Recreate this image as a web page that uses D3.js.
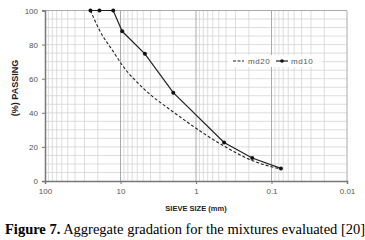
<!DOCTYPE html>
<html lang="en">
<head>
<meta charset="UTF-8" />
<title>Aggregate gradation</title>
<script src="https://d3js.org/d3.v7.min.js"></script>
<style>
    body { margin: 0; background: #fff; }
    svg { display: block; }
    .tick text { font-family: "Liberation Sans", Arial, sans-serif; font-size: 8px; fill: #555; }
</style>
</head>
<body>
<div id="viz"></div>
<script>
    // --- Data (sieve size in mm, % passing) ---
    const sieves = [25, 19, 12.5, 9.5, 4.75, 2.0, 0.425, 0.18, 0.075];
    const md20 = [100, 88.5, 76, 68, 53.5, 40.5, 20.5, 12, 7];
    const md10 = [100, 100, 100, 87.8, 74.6, 51.8, 22.6, 13.5, 7.4];
    const xTicks = [100, 10, 1, 0.1, 0.01];
    const yTicks = [0, 20, 40, 60, 80, 100];

    const W = 365, H = 240;
    const svg = d3.select("#viz").append("svg").attr("width", W).attr("height", H);

    const x = d3.scaleLog().domain([100, 0.01]).range([45, 347]);
    const y = d3.scaleLinear().domain([0, 100]).range([181, 10.5]);

    // minor grid
    const minor = [];
    [10, 1, 0.1, 0.01].forEach(dec => {
        for (let k = 2; k <= 9; k++) minor.push(dec * k);
    });
    const grid = svg.append("g");
    grid.selectAll("line.vm").data(minor).enter().append("line")
        .attr("x1", d => x(d)).attr("x2", d => x(d))
        .attr("y1", y(0)).attr("y2", y(100))
        .attr("stroke", "#d4d4d4").attr("stroke-width", 0.8);
    grid.selectAll("line.h").data(d3.range(5, 100, 5)).enter().append("line")
        .attr("x1", x(100)).attr("x2", x(0.01))
        .attr("y1", d => y(d)).attr("y2", d => y(d))
        .attr("stroke", "#d4d4d4").attr("stroke-width", 0.8);
    grid.selectAll("line.vM").data(xTicks.slice(1)).enter().append("line")
        .attr("x1", d => x(d)).attr("x2", d => x(d))
        .attr("y1", y(0)).attr("y2", y(100))
        .attr("stroke", "#aaa").attr("stroke-width", 1);
    // top border
    svg.append("line").attr("x1", x(100)).attr("x2", x(0.01))
        .attr("y1", y(100)).attr("y2", y(100))
        .attr("stroke", "#aaa").attr("stroke-width", 1);

    // axes
    const xAxis = svg.append("g").attr("transform", `translate(0,${y(0)})`)
        .call(d3.axisBottom(x).tickValues(xTicks).tickFormat(d => String(d)).tickSize(3).tickPadding(4));
    const yAxis = svg.append("g").attr("transform", `translate(${x(100)},0)`)
        .call(d3.axisLeft(y).tickValues(yTicks).tickSize(3).tickPadding(4));
    [xAxis, yAxis].forEach(a => {
        a.select(".domain").attr("stroke", "#777").attr("stroke-width", 1.5);
        a.selectAll(".tick line").attr("stroke", "#777");
    });

    // lines
    const rows20 = sieves.map((s, i) => [s, md20[i]]);
    const rows10 = sieves.map((s, i) => [s, md10[i]]);
    const line = d3.line().x(d => x(d[0])).y(d => y(d[1]));
    svg.append("path").datum(rows20).attr("d", line.curve(d3.curveMonotoneX))
        .attr("fill", "none").attr("stroke", "#222").attr("stroke-width", 1.1)
        .attr("stroke-dasharray", "3,2");
    svg.append("path").datum(rows10).attr("d", d3.line().x(d => x(d[0])).y(d => y(d[1])))
        .attr("fill", "none").attr("stroke", "#222").attr("stroke-width", 1.2);
    svg.selectAll("circle.p").data(rows10).enter().append("circle")
        .attr("cx", d => x(d[0])).attr("cy", d => y(d[1])).attr("r", 2)
        .attr("fill", "#111");

    // legend
    const lg = svg.append("g").attr("transform", "translate(228,55)");
    lg.append("rect").attr("width", 94).attr("height", 12).attr("fill", "#fff");
    lg.append("line").attr("x1", 5).attr("x2", 16).attr("y1", 6).attr("y2", 6)
        .attr("stroke", "#222").attr("stroke-width", 1.1).attr("stroke-dasharray", "3,1.5");
    lg.append("text").attr("x", 20).attr("y", 9).text("md20")
        .attr("font-family", "Liberation Sans, Arial, sans-serif").attr("font-size", 8)
        .attr("letter-spacing", 0.6).attr("fill", "#555");
    lg.append("line").attr("x1", 48).attr("x2", 60).attr("y1", 6).attr("y2", 6)
        .attr("stroke", "#222").attr("stroke-width", 1.2);
    lg.append("circle").attr("cx", 54).attr("cy", 6).attr("r", 1.8).attr("fill", "#111");
    lg.append("text").attr("x", 63).attr("y", 9).text("md10")
        .attr("font-family", "Liberation Sans, Arial, sans-serif").attr("font-size", 8)
        .attr("letter-spacing", 0.6).attr("fill", "#555");

    // axis titles
    svg.append("text").attr("x", 196).attr("y", 211).attr("text-anchor", "middle")
        .attr("font-family", "Liberation Sans, Arial, sans-serif").attr("font-size", 7.5)
        .attr("font-weight", "bold").attr("fill", "#222").text("SIEVE SIZE (mm)");
    svg.append("text").attr("transform", "translate(18,88) rotate(-90)").attr("text-anchor", "middle")
        .attr("font-family", "Liberation Sans, Arial, sans-serif").attr("font-size", 9)
        .attr("font-weight", "bold").attr("fill", "#222").text("(%) PASSING");

    // caption
    const cap = svg.append("text").attr("x", 5).attr("y", 234)
        .attr("font-family", "Liberation Serif, Times New Roman, serif").attr("font-size", 14.5)
        .attr("fill", "#000");
    cap.append("tspan").attr("font-weight", "bold").text("Figure 7.");
    cap.append("tspan").text(" Aggregate gradation for the mixtures evaluated [20]");
</script>
</body>
</html>
